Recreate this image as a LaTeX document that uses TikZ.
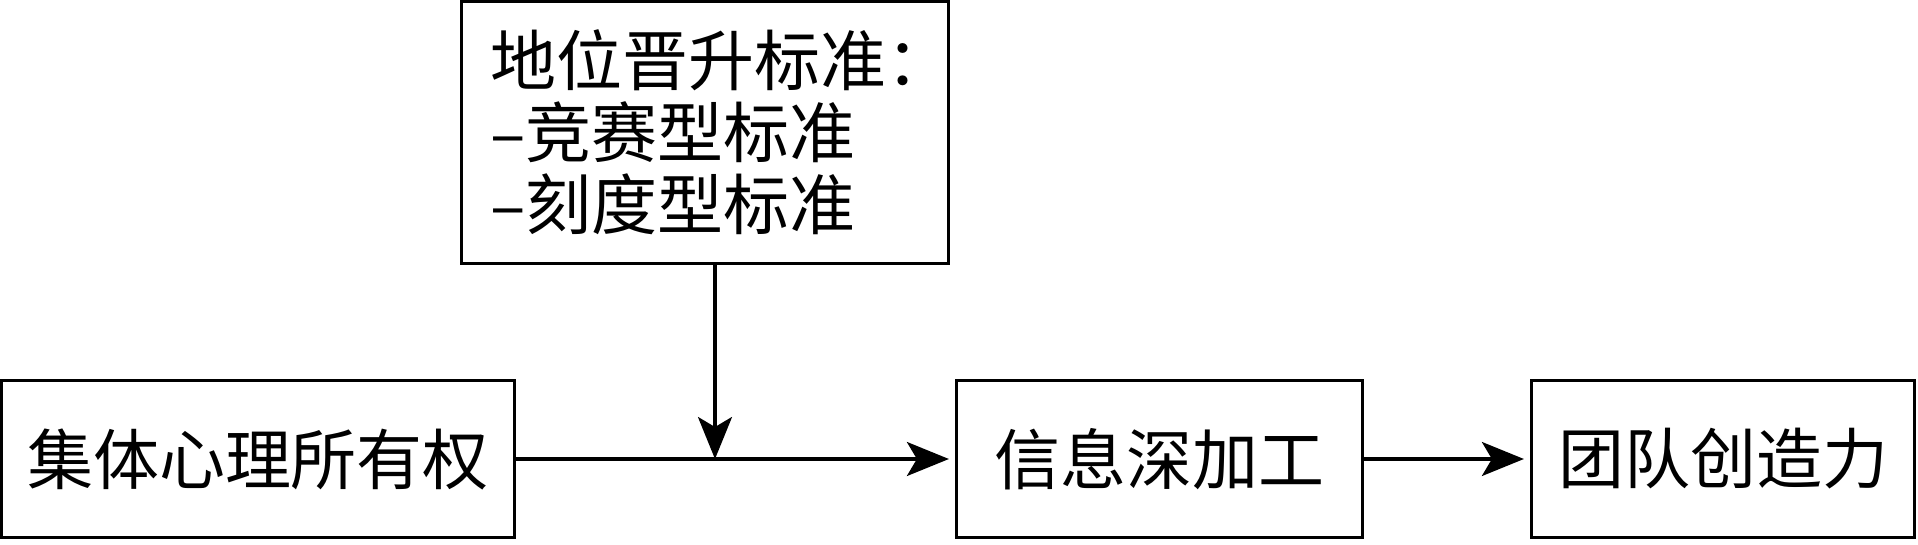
\documentclass[tikz,border=0pt]{standalone}
\usepackage{fontspec}
\setmainfont{Noto Sans CJK SC}
\usetikzlibrary{arrows.meta,positioning}
\tikzset{
  box/.style={draw,line width=1.6pt,inner sep=0pt},
  arr/.style={-{Stealth[length=21pt,width=17pt,inset=5pt]},line width=1.6pt}
}
\newcommand{\bigtext}{\fontsize{33pt}{36pt}\selectfont}

\begin{document}
\begin{tikzpicture}[x=0.5pt,y=-0.5pt,every node/.style={font=\bigtext}]
    \useasboundingbox (0,0) rectangle (1918,545);

    \node [box,minimum width=243.5pt,minimum height=131pt,align=left] (standard) at (705,132.5) {地位晋升标准\makebox[0.5em][l]{：}\\–竞赛型标准\\–刻度型标准};

    \node [box,minimum width=256.5pt,minimum height=78.5pt] (owner) at (258,459) {集体心理所有权};
    \node [box,minimum width=203pt,minimum height=78.5pt] (process) at (1159.5,459) {信息深加工};
    \node [box,minimum width=191.5pt,minimum height=78.5pt] (creative) at (1723,459) {团队创造力};

    \coordinate (join) at (715,459);

    \draw [arr,shorten >=3pt] (owner) -- (process);
    \draw [arr] (standard.south -| join) -- (join);
    \draw [arr,shorten >=3pt] (process) -- (creative);

  \end{tikzpicture}
\end{document}
